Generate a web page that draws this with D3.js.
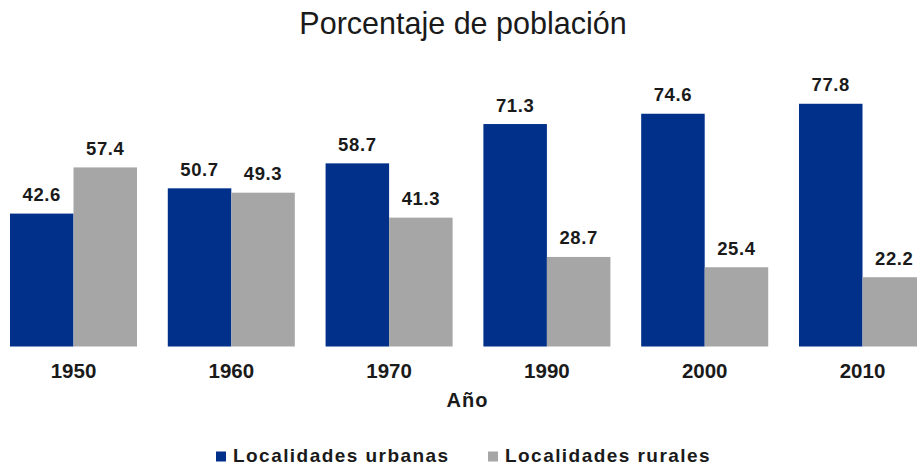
<!DOCTYPE html>
<html><head><meta charset="utf-8">
<script src="https://cdn.jsdelivr.net/npm/d3@7"></script>
<style>body{margin:0;background:#fff;} svg{display:block;}</style>
</head><body>
<svg id="chart" width="917" height="467"></svg>
<script>
const years = ["1950","1960","1970","1990","2000","2010"];
const urbanas = [42.6, 50.7, 58.7, 71.3, 74.6, 77.8];
const rurales = [57.4, 49.3, 41.3, 28.7, 25.4, 22.2];
const seriesNames = ["Localidades urbanas","Localidades rurales"];
const colors = ["#00308A","#A6A6A6"];

const svg = d3.select("#chart");
const font = "'Liberation Sans', Arial, sans-serif";

const x = d3.scaleBand().domain(years).range([-5.4, 941.4]).paddingInner(0.195).paddingOuter(0.0975);
const xs = d3.scaleBand().domain([0,1]).range([0, x.bandwidth()]);
const y = d3.scaleLinear().domain([0,100]).range([346.5, 34.5]);

const data = years.map((yr,i)=>({yr, vals:[urbanas[i], rurales[i]]}));

const g = svg.append("g");
const groups = g.selectAll("g.grp").data(data).join("g").attr("class","grp")
  .attr("transform", d=>`translate(${x(d.yr)},0)`);

groups.selectAll("rect").data(d=>d.vals.map((v,k)=>({v,k}))).join("rect")
  .attr("x", d=>xs(d.k)).attr("width", xs.bandwidth())
  .attr("y", d=>y(d.v)).attr("height", d=>y(0)-y(d.v))
  .attr("fill", d=>colors[d.k]);

groups.selectAll("text.val").data(d=>d.vals.map((v,k)=>({v,k}))).join("text").attr("class","val")
  .attr("x", d=>xs(d.k)+xs.bandwidth()/2).attr("y", d=>y(d.v)-12.5)
  .attr("text-anchor","middle").attr("font-family",font).attr("font-weight","bold")
  .attr("font-size","18.5px").attr("letter-spacing","0.6px").attr("fill","#1a1a1a")
  .text(d=>d.v.toFixed(1));

const xAxis = d3.axisBottom(x).tickSize(0).tickPadding(0);
const ax = svg.append("g").attr("transform","translate(0,346.5)").call(xAxis);
ax.select(".domain").remove();
ax.selectAll("text").attr("font-family",font).attr("font-weight","bold")
  .attr("font-size","20.5px").attr("fill","#1a1a1a").attr("dy",null).attr("y",31);

svg.append("text").attr("x",463).attr("y",34).attr("text-anchor","middle")
  .attr("font-family",font).attr("font-size","30.5px").attr("fill","#1a1a1a")
  .text("Porcentaje de población");

svg.append("text").attr("x",467.5).attr("y",406.5).attr("text-anchor","middle")
  .attr("font-family",font).attr("font-weight","bold").attr("font-size","20px")
  .attr("letter-spacing","1px").attr("fill","#1a1a1a").text("Año");

const legX = [216, 488];
const leg = svg.append("g");
seriesNames.forEach((n,k)=>{
  leg.append("rect").attr("x",legX[k]).attr("y",451.5).attr("width",10).attr("height",10).attr("fill",colors[k]);
  leg.append("text").attr("x",legX[k]+17).attr("y",462).attr("font-family",font).attr("font-weight","bold")
    .attr("font-size","19px").attr("letter-spacing","1.45px").attr("fill","#1a1a1a").text(n);
});
</script>
</body></html>
